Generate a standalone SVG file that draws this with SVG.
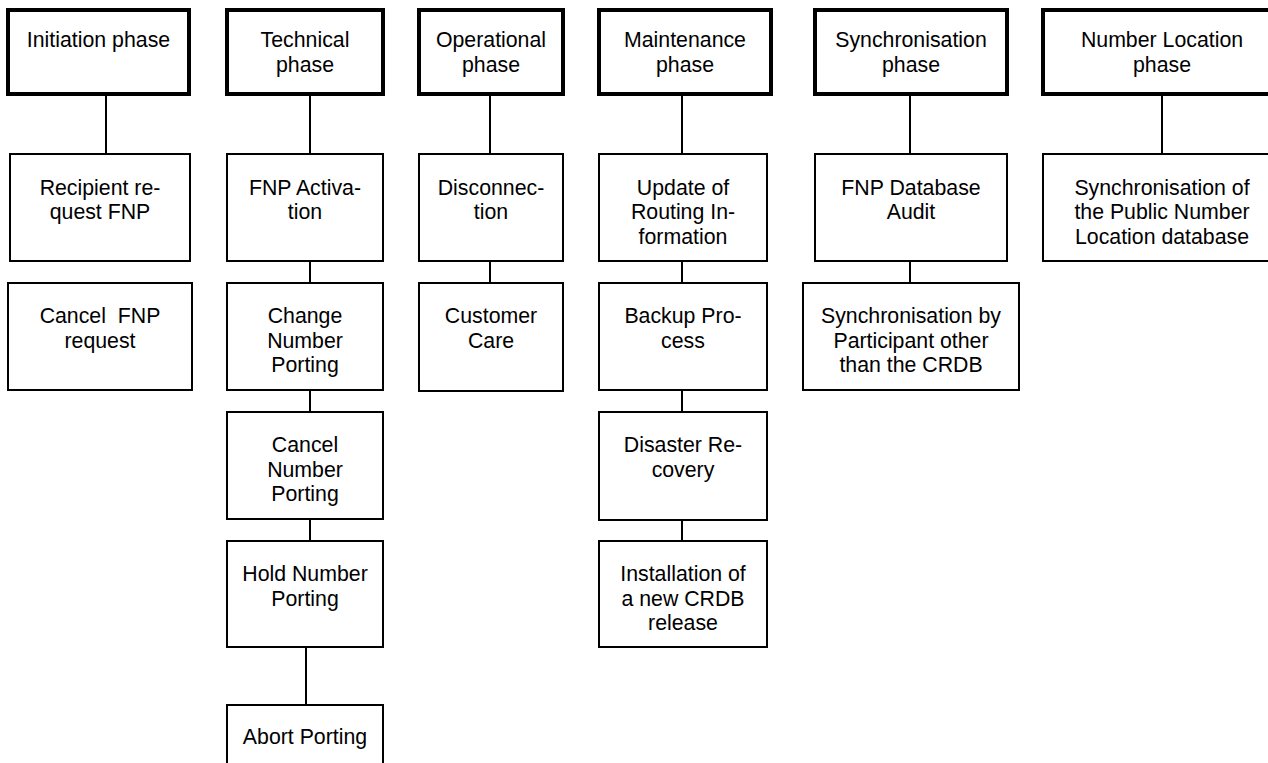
<svg xmlns="http://www.w3.org/2000/svg" width="1268" height="763" viewBox="0 0 1268 763">
  <style>
    .phase { fill: #fff; stroke: #000; stroke-width: 4; }
    .step { fill: #fff; stroke: #000; stroke-width: 2; }
    .link { stroke: #000; stroke-width: 2; fill: none; }
    text { font-family: "Liberation Sans", Arial, sans-serif; font-size: 21.3px; fill: #000; text-anchor: middle; white-space: pre; }
  </style>
  <rect width="1268" height="763" fill="#fff"/>

  <!-- connectors between phases and their steps -->
  <g id="connectors">
    <line class="link" x1="106" y1="96" x2="106" y2="154"/>
    <line class="link" x1="310" y1="96" x2="310" y2="154"/>
    <line class="link" x1="310" y1="261" x2="310" y2="283"/>
    <line class="link" x1="310" y1="390" x2="310" y2="412"/>
    <line class="link" x1="310" y1="519" x2="310" y2="541"/>
    <line class="link" x1="306" y1="647" x2="306" y2="705"/>
    <line class="link" x1="490" y1="96" x2="490" y2="154"/>
    <line class="link" x1="490" y1="261" x2="490" y2="283"/>
    <line class="link" x1="682" y1="96" x2="682" y2="154"/>
    <line class="link" x1="682" y1="261" x2="682" y2="283"/>
    <line class="link" x1="682" y1="390" x2="682" y2="412"/>
    <line class="link" x1="682" y1="520" x2="682" y2="541"/>
    <line class="link" x1="910" y1="96" x2="910" y2="154"/>
    <line class="link" x1="910" y1="261" x2="910" y2="283"/>
    <line class="link" x1="1162" y1="96" x2="1162" y2="154"/>
  </g>

  <!-- Initiation phase -->
  <g id="initiation-phase">
    <rect class="phase" x="8" y="10" width="181" height="84"/>
    <text x="98.5" y="47">Initiation phase</text>
  </g>
  <g id="recipient-request">
    <rect class="step" x="10" y="154" width="180" height="107"/>
    <text x="100" y="194.5">Recipient re-</text>
    <text x="100" y="219">quest FNP</text>
  </g>
  <g id="cancel-fnp-request">
    <rect class="step" x="8" y="283" width="184" height="107"/>
    <text x="100" y="323">Cancel  FNP</text>
    <text x="100" y="347.5">request</text>
  </g>

  <!-- Technical phase -->
  <g id="technical-phase">
    <rect class="phase" x="227" y="10" width="156" height="84"/>
    <text x="305" y="47">Technical</text>
    <text x="305" y="71.5">phase</text>
  </g>
  <g id="fnp-activation">
    <rect class="step" x="227" y="154" width="156" height="107"/>
    <text x="305" y="194.5">FNP Activa-</text>
    <text x="305" y="219">tion</text>
  </g>
  <g id="change-number-porting">
    <rect class="step" x="227" y="283" width="156" height="107"/>
    <text x="305" y="323">Change</text>
    <text x="305" y="347.5">Number</text>
    <text x="305" y="372">Porting</text>
  </g>
  <g id="cancel-number-porting">
    <rect class="step" x="227" y="412" width="156" height="107"/>
    <text x="305" y="452">Cancel</text>
    <text x="305" y="476.5">Number</text>
    <text x="305" y="501">Porting</text>
  </g>
  <g id="hold-number-porting">
    <rect class="step" x="227" y="541" width="156" height="106"/>
    <text x="305" y="581">Hold Number</text>
    <text x="305" y="605.5">Porting</text>
  </g>
  <g id="abort-porting">
    <rect class="step" x="227" y="705" width="156" height="80"/>
    <text x="305" y="744">Abort Porting</text>
  </g>

  <!-- Operational phase -->
  <g id="operational-phase">
    <rect class="phase" x="419" y="10" width="144" height="84"/>
    <text x="491" y="47">Operational</text>
    <text x="491" y="71.5">phase</text>
  </g>
  <g id="disconnection">
    <rect class="step" x="419" y="154" width="144" height="107"/>
    <text x="491" y="194.5">Disconnec-</text>
    <text x="491" y="219">tion</text>
  </g>
  <g id="customer-care">
    <rect class="step" x="419" y="283" width="144" height="108"/>
    <text x="491" y="323">Customer</text>
    <text x="491" y="347.5">Care</text>
  </g>

  <!-- Maintenance phase -->
  <g id="maintenance-phase">
    <rect class="phase" x="599" y="10" width="172" height="84"/>
    <text x="685" y="47">Maintenance</text>
    <text x="685" y="71.5">phase</text>
  </g>
  <g id="update-routing-information">
    <rect class="step" x="599" y="154" width="168" height="107"/>
    <text x="683" y="194.5">Update of</text>
    <text x="683" y="219">Routing In-</text>
    <text x="683" y="243.5">formation</text>
  </g>
  <g id="backup-process">
    <rect class="step" x="599" y="283" width="168" height="107"/>
    <text x="683" y="323">Backup Pro-</text>
    <text x="683" y="347.5">cess</text>
  </g>
  <g id="disaster-recovery">
    <rect class="step" x="599" y="412" width="168" height="108"/>
    <text x="683" y="452">Disaster Re-</text>
    <text x="683" y="476.5">covery</text>
  </g>
  <g id="crdb-release-installation">
    <rect class="step" x="599" y="541" width="168" height="106"/>
    <text x="683" y="581">Installation of</text>
    <text x="683" y="605.5">a new CRDB</text>
    <text x="683" y="630">release</text>
  </g>

  <!-- Synchronisation phase -->
  <g id="synchronisation-phase">
    <rect class="phase" x="815" y="10" width="192" height="84"/>
    <text x="911" y="47">Synchronisation</text>
    <text x="911" y="71.5">phase</text>
  </g>
  <g id="fnp-database-audit">
    <rect class="step" x="815" y="154" width="192" height="107"/>
    <text x="911" y="194.5">FNP Database</text>
    <text x="911" y="219">Audit</text>
  </g>
  <g id="participant-synchronisation">
    <rect class="step" x="803" y="283" width="216" height="107"/>
    <text x="911" y="323">Synchronisation by</text>
    <text x="911" y="347.5">Participant other</text>
    <text x="911" y="372">than the CRDB</text>
  </g>

  <!-- Number Location phase -->
  <g id="number-location-phase">
    <rect class="phase" x="1043" y="10" width="238" height="84"/>
    <text x="1162" y="47">Number Location</text>
    <text x="1162" y="71.5">phase</text>
  </g>
  <g id="public-number-location-sync">
    <rect class="step" x="1043" y="154" width="238" height="107"/>
    <text x="1162" y="194.5">Synchronisation of</text>
    <text x="1162" y="219">the Public Number</text>
    <text x="1162" y="243.5">Location database</text>
  </g>
</svg>
